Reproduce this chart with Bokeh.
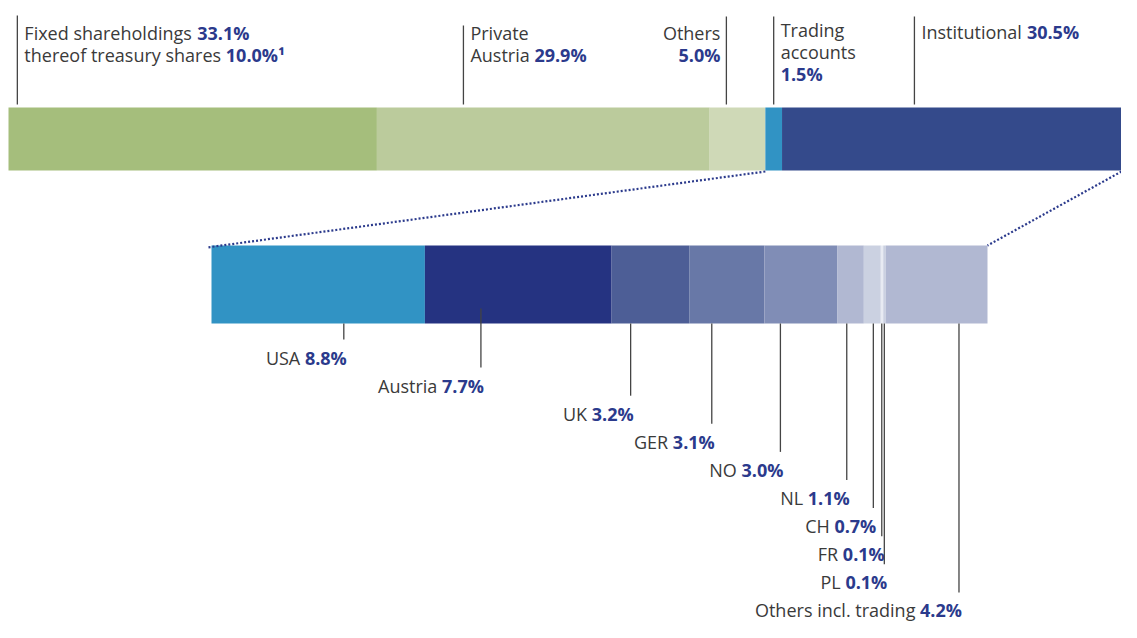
import numpy as np
from bokeh.plotting import figure
from bokeh.models import Range1d
from bokeh.embed import file_html
from bokeh.resources import INLINE
from bokeh.core.properties import value

# ---------------- data ----------------
top_categories = ["Fixed shareholdings", "Private Austria", "Others", "Trading accounts", "Institutional"]
top_values = [33.1, 29.9, 5.0, 1.5, 30.5]
treasury_share = 10.0

inst_categories = ["USA", "Austria", "UK", "GER", "NO", "NL", "CH", "FR", "PL", "Others incl. trading"]
inst_values = [8.8, 7.7, 3.2, 3.1, 3.0, 1.1, 0.7, 0.1, 0.1, 4.2]

# ---------------- styles ----------------
top_colors = ["#a5be7c", "#bbcb9c", "#cfd9b7", "#3193c4", "#344a8b"]
inst_colors = ["#3193c4", "#253381", "#4d5e96", "#6878a7", "#808db6",
               "#b1b8d2", "#cbd1e1", "#e8ebf3", "#cbd1e1", "#b1b8d2"]
FONT = "Open Sans"
FS = 18
TXT = "#3a3a3a"
VAL = "#2b3a8c"
LEAD = "#444444"

W, H = 1121, 622


def fmt(v):
    return f"{v:.1f}%"


# approximate Open Sans advance widths (units / 2048)
REG = {' ': 532, 'a': 1139, 'b': 1255, 'c': 975, 'd': 1255, 'e': 1149, 'f': 694, 'g': 1122,
       'h': 1257, 'i': 518, 'j': 518, 'k': 1075, 'l': 518, 'm': 1905, 'n': 1257, 'o': 1237,
       'p': 1255, 'q': 1255, 'r': 836, 's': 977, 't': 723, 'u': 1257, 'v': 1026, 'w': 1593,
       'x': 1073, 'y': 1028, 'z': 901, 'A': 1296, 'C': 1292, 'F': 1110, 'G': 1482, 'E': 1126,
       'H': 1520, 'I': 621, 'L': 1110, 'N': 1604, 'O': 1593, 'P': 1245, 'R': 1284, 'S': 1100,
       'T': 1153, 'U': 1510, 'K': 1272, 'W': 1933, '.': 545, '%': 1753, '\u00b9': 754}
BOLD = {'.': 600, '%': 1823, ' ': 532, '\u00b9': 780}


def tw(s, bold=False):
    tot = 0
    for ch in s:
        if ch.isdigit():
            tot += 1171
        elif bold and ch in BOLD:
            tot += BOLD[ch]
        else:
            tot += REG.get(ch, 1150) * (1.06 if bold else 1.0)
    return tot / 2048 * FS


SPACE = 532 / 2048 * FS

# main scale: 0..100 % spans picture px 8 .. W
TOP_L_PX = 8
px_per_unit = (W - TOP_L_PX) / 100.0
p = figure(width=W, height=H, x_range=Range1d(-TOP_L_PX / px_per_unit, 100), y_range=Range1d(H, 0),
           output_backend="svg", toolbar_location=None, min_border=0,
           x_axis_location=None, y_axis_location=None)
p.grid.visible = False
p.outline_line_color = None
p.background_fill_color = "white"
p.border_fill_color = "white"

# second scale for the institutional breakdown bar (px 211 .. 987)
inst_total = float(np.sum(inst_values))
bl_px, br_px = 211, 987
per_px = inst_total / (br_px - bl_px)
inst_start = -bl_px * per_px
inst_end = inst_start + W * per_px
p.extra_x_ranges = {"inst": Range1d(inst_start, inst_end)}

main_start = p.x_range.start
main_end = p.x_range.end


def inst_to_main(x):
    return main_start + (x - inst_start) / (inst_end - inst_start) * (main_end - main_start)


# ---------------- bars ----------------
top_right = np.cumsum(top_values)
top_left = top_right - np.array(top_values)
TOP_Y0, TOP_Y1 = 107, 170
p.hbar(y=(TOP_Y0 + TOP_Y1) / 2, left=top_left, right=top_right, height=TOP_Y1 - TOP_Y0,
       fill_color=top_colors, line_color=None)

in_right = np.cumsum(inst_values)
in_left = in_right - np.array(inst_values)
BOT_Y0, BOT_Y1 = 245, 323
p.hbar(y=(BOT_Y0 + BOT_Y1) / 2, left=in_left, right=in_right, height=BOT_Y1 - BOT_Y0,
       fill_color=inst_colors, line_color=None, x_range_name="inst")

# dotted connectors
trading_start = top_left[3]
p.segment(x0=[trading_start, top_right[-1]], y0=[TOP_Y1 + 1, TOP_Y1 + 1],
          x1=[inst_to_main(in_left[0]) - 0.4, inst_to_main(in_right[-1])], y1=[BOT_Y0 + 2, BOT_Y0],
          line_color=VAL, line_width=2.2, line_dash="2 2")


def put(x, y, text, bold, align, xo=0, rng="default"):
    kw = {}
    if rng != "default":
        kw["x_range_name"] = rng
    p.text(x=[x], y=[y], text=[text], x_offset=xo, text_align=align,
           text_baseline="alphabetic", text_font=value(FONT), text_font_size=f"{FS}px",
           text_font_style="bold" if bold else "normal",
           text_color=VAL if bold else TXT, **kw)


# ---------------- top labels ----------------
top_lines = [
    [("Fixed shareholdings", fmt(top_values[0])), ("thereof treasury shares", fmt(treasury_share) + "\u00b9")],
    [("Private", ""), ("Austria", fmt(top_values[1]))],
    [("Others", ""), ("", fmt(top_values[2]))],
    [("Trading", ""), ("accounts", ""), ("", fmt(top_values[3]))],
    [("Institutional", fmt(top_values[4]))],
]
top_align = ["left", "left", "right", "left", "left"]
top_leader_frac = [0.024, 0.26, 0.30, 0.5, 0.39]
top_baseline = [32, 32, 32, 29, 31]
top_leader_top = [15, 25, 16, 16, 16]
LINE_H = 22

for i in range(len(top_values)):
    lx = top_left[i] + top_leader_frac[i] * top_values[i]
    p.segment(x0=[lx], y0=[top_leader_top[i]], x1=[lx], y1=[TOP_Y0 - 3],
              line_color=LEAD, line_width=1.3)
    for j, (plain, bold) in enumerate(top_lines[i]):
        y = top_baseline[i] + j * LINE_H
        if top_align[i] == "left":
            xo = 7
            if plain:
                put(lx, y, plain, False, "left", xo)
                if bold:
                    put(lx, y, bold, True, "left", xo + tw(plain) + SPACE)
            elif bold:
                put(lx, y, bold, True, "left", xo)
        else:
            xo = -6
            if bold:
                put(lx, y, bold, True, "right", xo)
                if plain:
                    put(lx, y, plain, False, "right", xo - tw(bold, True) - SPACE)
            elif plain:
                put(lx, y, plain, False, "right", xo)

# ---------------- breakdown labels ----------------
inst_leader_frac = [0.62, 0.30, 0.245, 0.30, 0.22, 0.36, 0.56, 0.4, 0.45, 0.72]
first_base, step = 357, 28.1
for i, (name, v) in enumerate(zip(inst_categories, inst_values)):
    lx = in_left[i] + inst_leader_frac[i] * v
    base = first_base + i * step
    ytop = BOT_Y1 - 15 if i == 1 else BOT_Y1
    p.segment(x0=[lx], y0=[ytop], x1=[lx], y1=[base - 18], line_color=LEAD,
              line_width=1.3, x_range_name="inst")
    vt = fmt(v)
    put(lx, base, vt, True, "right", 3, "inst")
    put(lx, base, name, False, "right", 3 - tw(vt, True) - SPACE, "inst")

open("out.html", "w").write(file_html(p, INLINE))
